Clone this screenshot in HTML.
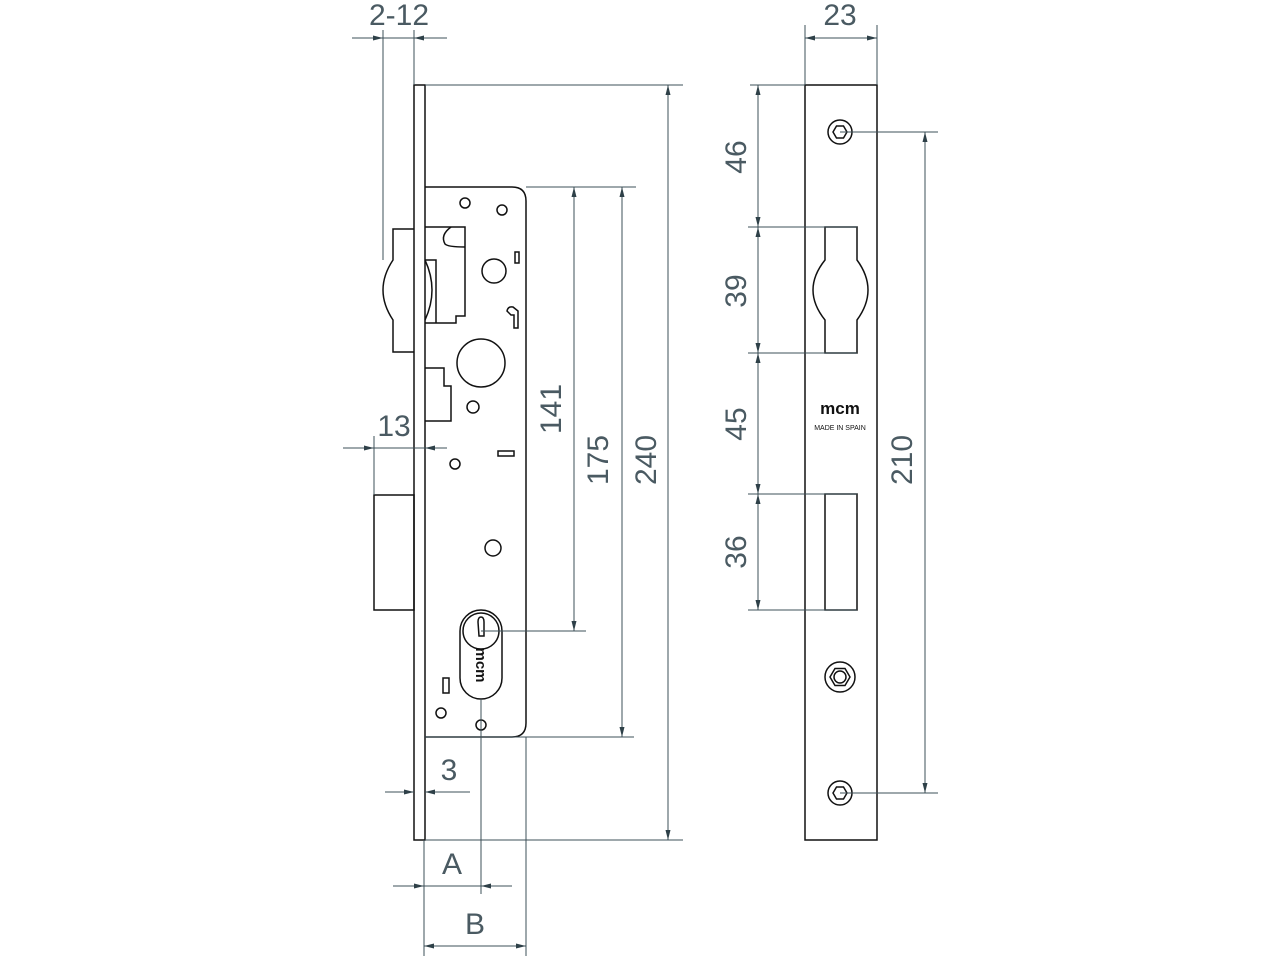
<!DOCTYPE html>
<html><head><meta charset="utf-8"><style>
html,body{margin:0;padding:0;background:#fff;}
svg{display:block;}
.k{fill:none;stroke:#111;stroke-width:1.5;}
.d{fill:none;stroke:#3e5058;stroke-width:1;}
.t{font-family:"Liberation Sans",sans-serif;font-size:30px;fill:#4a5a62;font-weight:normal;}
.a{fill:#2e4048;}
</style></head><body>
<svg width="1280" height="960" viewBox="0 0 1280 960" xmlns="http://www.w3.org/2000/svg">
<defs>
<marker id="ar" viewBox="0 0 10 6" refX="10" refY="3" markerWidth="10" markerHeight="6" orient="auto-start-reverse" markerUnits="userSpaceOnUse">
<path d="M0,0.5 L10,3 L0,5.5 z" fill="#2e4048"/></marker>
</defs>

<!-- ===== LEFT VIEW ===== -->
<!-- faceplate -->
<rect class="k" x="414" y="85" width="11" height="755"/>
<!-- body -->
<path class="k" d="M425,187 H512 Q526,187 526,201 V723 Q526,737 512,737 H425"/>
<!-- latch outside -->
<path class="k" d="M414,229 H393 V260 Q383,275 383,290 Q383,305 393,320 V352 H414"/>
<!-- latch inside -->
<path class="k" d="M425,227 H465 V316 H456 V323 H425"/>
<path class="k" d="M451,227 Q440,235 445,244 Q448,247 465,247"/>
<path class="k" d="M425,260 H436 V323"/>
<path class="k" d="M425,260 Q432,275 432,290 Q432,305 425,320"/>
<!-- deadbolt piece inside -->
<path class="k" d="M425,368 H444 V386 H451 V421 H425"/>
<!-- lower block -->
<rect class="k" x="374" y="495" width="40" height="115"/>
<!-- holes -->
<circle class="k" cx="465" cy="203" r="5"/>
<circle class="k" cx="502" cy="210" r="5"/>
<circle class="k" cx="494" cy="271" r="12"/>
<circle class="k" cx="481" cy="363" r="24"/>
<circle class="k" cx="473" cy="407" r="6"/>
<circle class="k" cx="455" cy="464" r="5"/>
<circle class="k" cx="493" cy="548" r="8"/>
<rect class="k" x="515" y="252" width="4" height="11"/>
<rect class="k" x="498" y="451" width="16" height="5"/>
<path class="k" d="M511,315 L507,311 Q508,306 513,307 L518,311 V328 H514 V315 Z"/>
<!-- cylinder -->
<rect class="k" x="460" y="610" width="42" height="89" rx="21"/>
<circle class="k" cx="481" cy="631" r="18"/>
<path class="k" d="M478,622 Q478,617 481,617 Q484,617 484,622 V636 H479 Z"/>
<text x="0" y="0" transform="translate(476,665) rotate(90)" font-family="Liberation Sans,sans-serif" font-size="15" font-weight="bold" fill="#111" text-anchor="middle">mcm</text>
<rect class="k" x="443" y="678" width="6" height="15"/>
<circle class="k" cx="441" cy="713" r="5"/>
<circle class="k" cx="481" cy="725" r="5"/>

<!-- left dims -->
<line class="d" x1="383" y1="30" x2="383" y2="260"/>
<line class="d" x1="414" y1="30" x2="414" y2="85"/>
<line class="d" x1="352" y1="38" x2="383" y2="38" marker-end="url(#ar)"/>
<line class="d" x1="447" y1="38" x2="414" y2="38" marker-end="url(#ar)"/>
<line class="d" x1="383" y1="38" x2="414" y2="38"/>
<text class="t" x="399" y="25" text-anchor="middle" textLength="60">2-12</text>

<line class="d" x1="374" y1="436" x2="374" y2="495"/>
<line class="d" x1="343" y1="448" x2="374" y2="448" marker-end="url(#ar)"/>
<line class="d" x1="447" y1="448" x2="425" y2="448" marker-end="url(#ar)"/>
<line class="d" x1="374" y1="448" x2="425" y2="448"/>
<text class="t" x="394" y="436" text-anchor="middle">13</text>

<line class="d" x1="385" y1="792" x2="414" y2="792" marker-end="url(#ar)"/>
<line class="d" x1="470" y1="792" x2="425" y2="792" marker-end="url(#ar)"/>
<text class="t" x="449" y="780" text-anchor="middle">3</text>

<line class="d" x1="424" y1="840" x2="424" y2="956"/>
<line class="d" x1="526" y1="737" x2="526" y2="956"/>
<line class="d" x1="481" y1="699" x2="481" y2="894"/>
<line class="d" x1="393" y1="886" x2="424" y2="886" marker-end="url(#ar)"/>
<line class="d" x1="512" y1="886" x2="481" y2="886" marker-end="url(#ar)"/>
<line class="d" x1="424" y1="886" x2="481" y2="886"/>
<text class="t" x="452" y="874" text-anchor="middle">A</text>
<line class="d" x1="424" y1="946" x2="526" y2="946" marker-start="url(#ar)" marker-end="url(#ar)"/>
<text class="t" x="475" y="934" text-anchor="middle">B</text>

<line class="d" x1="526" y1="187" x2="636" y2="187"/>
<line class="d" x1="425" y1="737" x2="634" y2="737"/>
<line class="d" x1="481" y1="631" x2="586" y2="631"/>
<line class="d" x1="425" y1="85" x2="683" y2="85"/>
<line class="d" x1="425" y1="840" x2="683" y2="840"/>
<line class="d" x1="574" y1="187" x2="574" y2="631" marker-start="url(#ar)" marker-end="url(#ar)"/>
<line class="d" x1="622" y1="187" x2="622" y2="737" marker-start="url(#ar)" marker-end="url(#ar)"/>
<line class="d" x1="668" y1="85" x2="668" y2="840" marker-start="url(#ar)" marker-end="url(#ar)"/>
<text class="t" transform="translate(561,409) rotate(-90)" text-anchor="middle">141</text>
<text class="t" transform="translate(608,460) rotate(-90)" text-anchor="middle">175</text>
<text class="t" transform="translate(656,460) rotate(-90)" text-anchor="middle">240</text>

<!-- ===== RIGHT VIEW ===== -->
<rect class="k" x="805" y="85" width="72" height="755"/>
<path class="k" d="M825,227 H857 V260 Q868,275 868,290 Q868,305 857,320 V353 H825 V320 Q813,305 813,290 Q813,275 825,260 Z"/>
<rect class="k" x="825" y="494" width="32" height="116"/>
<g class="k">
<circle cx="840" cy="132" r="12"/>
<polygon points="847,132 843.5,138 836.5,138 833,132 836.5,126 843.5,126"/>
<circle cx="840" cy="677" r="15"/>
<polygon points="850,677 845,685.5 835,685.5 830,677 835,668.5 845,668.5"/>
<circle cx="840" cy="677" r="6"/>
<circle cx="840" cy="793" r="12"/>
<polygon points="847,793 843.5,799 836.5,799 833,793 836.5,787 843.5,787"/>
</g>
<text x="840" y="414" font-family="Liberation Sans,sans-serif" font-size="17" font-weight="bold" fill="#111" text-anchor="middle">mcm</text>
<text x="840" y="430" font-family="Liberation Sans,sans-serif" font-size="7" fill="#111" text-anchor="middle">MADE IN SPAIN</text>

<!-- right dims -->
<line class="d" x1="805" y1="25" x2="805" y2="85"/>
<line class="d" x1="877" y1="25" x2="877" y2="85"/>
<line class="d" x1="805" y1="38" x2="877" y2="38" marker-start="url(#ar)" marker-end="url(#ar)"/>
<text class="t" x="840" y="25" text-anchor="middle">23</text>

<line class="d" x1="750" y1="85" x2="805" y2="85"/>
<line class="d" x1="748" y1="227" x2="857" y2="227"/>
<line class="d" x1="748" y1="353" x2="857" y2="353"/>
<line class="d" x1="748" y1="494" x2="857" y2="494"/>
<line class="d" x1="748" y1="610" x2="857" y2="610"/>
<line class="d" x1="758" y1="85" x2="758" y2="227" marker-start="url(#ar)" marker-end="url(#ar)"/>
<line class="d" x1="758" y1="227" x2="758" y2="353" marker-start="url(#ar)" marker-end="url(#ar)"/>
<line class="d" x1="758" y1="353" x2="758" y2="494" marker-start="url(#ar)" marker-end="url(#ar)"/>
<line class="d" x1="758" y1="494" x2="758" y2="610" marker-start="url(#ar)" marker-end="url(#ar)"/>
<text class="t" transform="translate(746,157) rotate(-90)" text-anchor="middle">46</text>
<text class="t" transform="translate(746,291) rotate(-90)" text-anchor="middle">39</text>
<text class="t" transform="translate(746,424) rotate(-90)" text-anchor="middle">45</text>
<text class="t" transform="translate(746,552) rotate(-90)" text-anchor="middle">36</text>

<line class="d" x1="840" y1="132" x2="938" y2="132"/>
<line class="d" x1="840" y1="793" x2="938" y2="793"/>
<line class="d" x1="925" y1="132" x2="925" y2="793" marker-start="url(#ar)" marker-end="url(#ar)"/>
<text class="t" transform="translate(912,460) rotate(-90)" text-anchor="middle">210</text>
</svg>
</body></html>
